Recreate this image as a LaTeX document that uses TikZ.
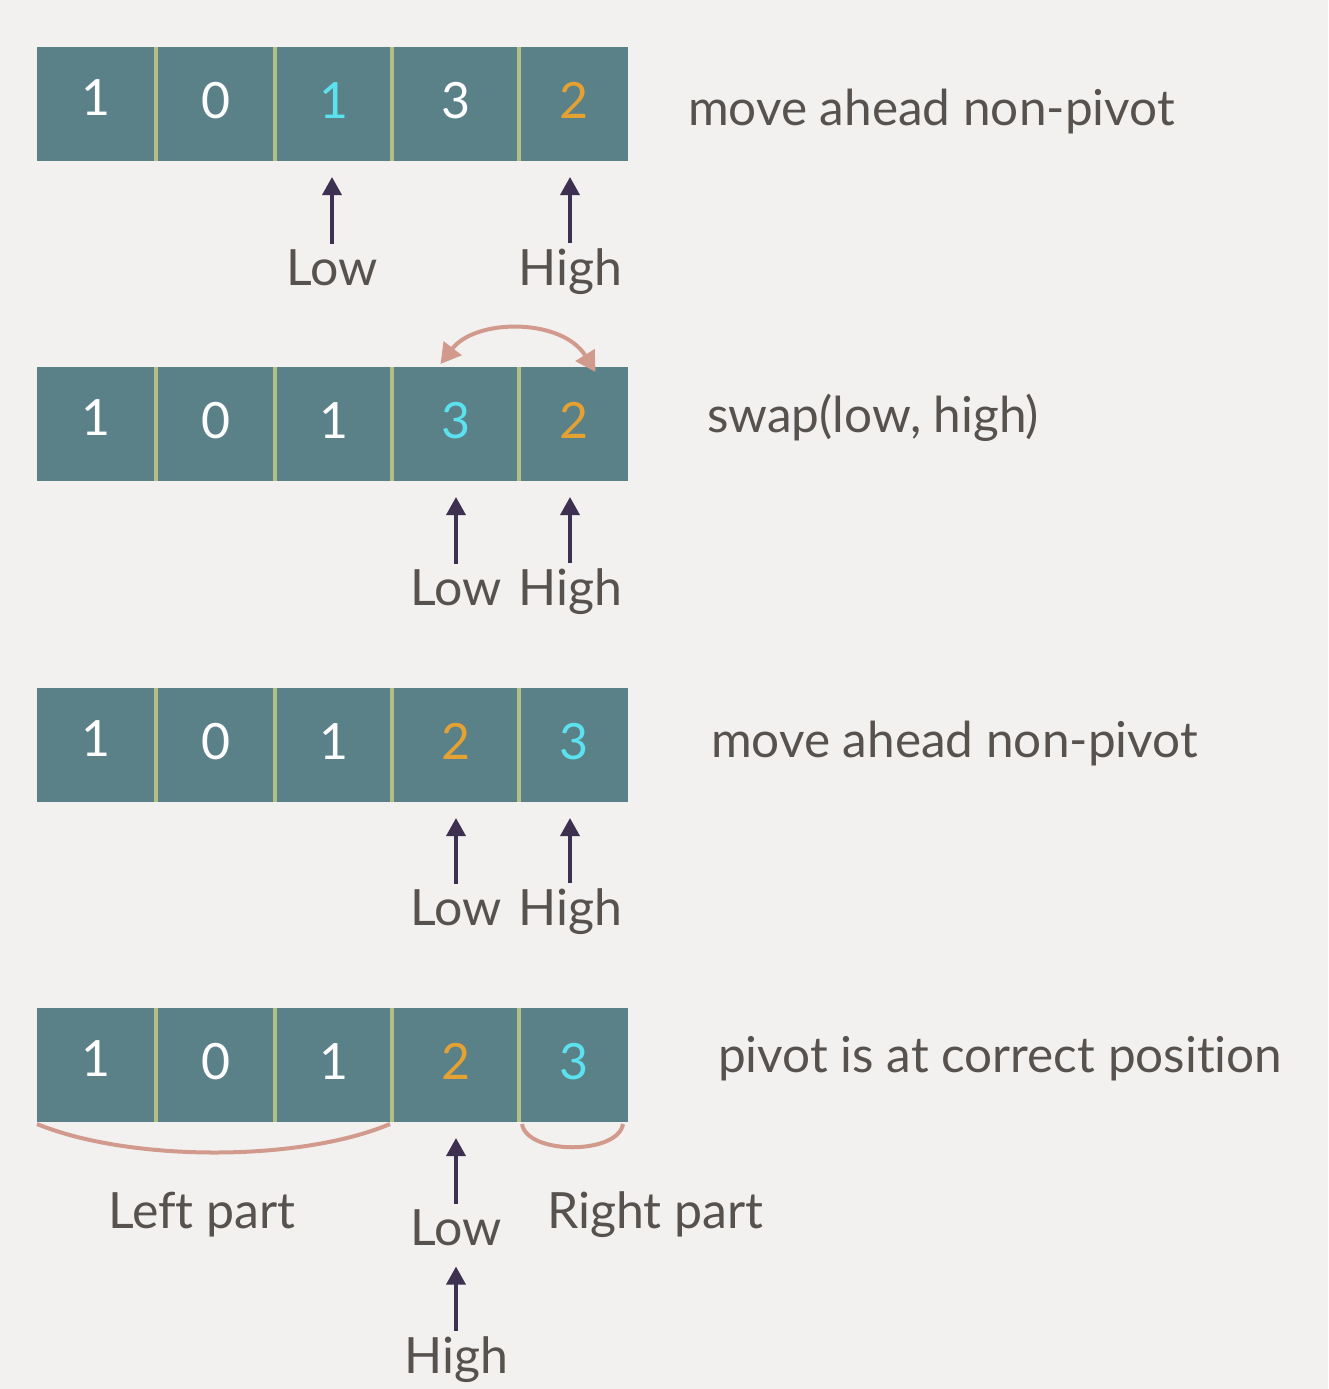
\documentclass[tikz,border=0pt]{standalone}
\usepackage{fontspec}
\setmainfont{Lato}[Ligatures={NoCommon}]
\usetikzlibrary{arrows.meta}
\definecolor{bg}{HTML}{F2F1EF}
\definecolor{cellc}{HTML}{5B8188}
\definecolor{sepc}{HTML}{B3BF85}
\definecolor{txt}{HTML}{57524E}
\definecolor{cyn}{HTML}{5CE1EE}
\definecolor{org}{HTML}{E6A133}
\definecolor{ptr}{HTML}{3D3050}
\definecolor{arcc}{HTML}{D19A8D}
\newcommand\qsrow[7]{%
  \node[cellbox, minimum width=119pt] (#1c1) at (37,#2) {};
  \node[cellbox, minimum width=119pt] (#1c2) at (156,#2) {};
  \node[cellbox, minimum width=117pt] (#1c3) at (275,#2) {};
  \node[cellbox, minimum width=127pt] (#1c4) at (392,#2) {};
  \node[cellbox, minimum width=109pt] (#1c5) at (519,#2) {};
  \foreach \k in {1,2,3,4}{\draw[sepline] (#1c\k.north east) -- (#1c\k.south east);}
  \node[dig] (#1d1) at ([xshift=-1pt,yshift=-68pt]#1c1.north) {#3};
  \node[dig] (#1d2) at ([yshift=-71pt]#1c2.north) {#4};
  \node[dig] (#1d3) at ([yshift=-71pt]#1c3.north) {#5};
  \node[dig] (#1d4) at ([yshift=-71pt]#1c4.north) {#6};
  \node[dig] (#1d5) at ([yshift=-71pt]#1c5.north) {#7};
}
\begin{document}
\begin{tikzpicture}[x=1pt,y=-1pt,
  cellbox/.style={fill=cellc, draw=none, minimum height=114pt, inner sep=0pt, outer sep=0pt, anchor=north west},
  sepline/.style={draw=sepc, line width=4pt},
  dig/.style={font=\fontsize{50}{50}\selectfont, text=white, anchor=base, inner sep=0pt},
  lbl/.style={font=\fontsize{50}{50}\selectfont, text=txt, anchor=base, inner sep=0pt},
  desc/.style={font=\fontsize{49.5}{50}\selectfont, text=txt, anchor=base west, inner sep=0pt},
  ptrarrow/.style={draw=ptr, line width=3.5pt, -{Triangle[length=18pt,width=19pt]}},
  arcline/.style={draw=arcc, line width=4pt},
  arcarrow/.style={draw=arcc, line width=4pt, {Triangle[length=20pt,width=22pt]}-{Triangle[length=20pt,width=22pt]}}]
\fill[bg] (0,0) rectangle (1328,1389);
\useasboundingbox (0,0) rectangle (1328,1389);

% row 1
\qsrow{a}{47}{1}{0}{\textcolor{cyn}{1}}{3}{\textcolor{org}{2}}
\node[desc] (adesc) at (688,125) {move ahead non-pivot};
\node[lbl] (alow) at (332,285) {Low};
\node[lbl] (ahigh) at (570,285) {High};
\draw[ptrarrow] ([yshift=5pt]alow.north) -- ([yshift=-16pt]alow.north |- ac3.south);
\draw[ptrarrow] ([yshift=5pt]ahigh.north) -- ([yshift=-16pt]ahigh.north |- ac5.south);

% row 2
\qsrow{b}{367}{1}{0}{1}{\textcolor{cyn}{3}}{\textcolor{org}{2}}
\node[desc] (bdesc) at (707,432) {swap(low, high)};
\node[lbl] (blow) at (456,605) {Low};
\node[lbl] (bhigh) at (570,605) {High};
\draw[ptrarrow] ([yshift=5pt]blow.north) -- ([yshift=-16pt]blow.north |- bc4.south);
\draw[ptrarrow] ([yshift=5pt]bhigh.north) -- ([yshift=-16pt]bhigh.north |- bc5.south);
\draw[arcarrow] ([xshift=-15pt,yshift=3pt]bc4.north) .. controls (476,318) and (562,318) .. ([xshift=22pt,yshift=-5pt]bc5.north);

% row 3
\qsrow{c}{688}{1}{0}{1}{\textcolor{org}{2}}{\textcolor{cyn}{3}}
\node[desc] (cdesc) at (711,757) {move ahead non-pivot};
\node[lbl] (clow) at (456,925) {Low};
\node[lbl] (chigh) at (570,925) {High};
\draw[ptrarrow] ([yshift=5pt]clow.north) -- ([yshift=-16pt]clow.north |- cc4.south);
\draw[ptrarrow] ([yshift=5pt]chigh.north) -- ([yshift=-16pt]chigh.north |- cc5.south);

% row 4
\qsrow{d}{1008}{1}{0}{1}{\textcolor{org}{2}}{\textcolor{cyn}{3}}
\node[desc] (ddesc) at (718,1072) {pivot is at correct position};
\node[lbl] (dlow) at (456,1245) {Low};
\node[lbl] (dhigh) at (456,1373) {High};
\draw[ptrarrow] ([yshift=5pt]dlow.north) -- ([yshift=-16pt]dlow.north |- dc4.south);
\draw[ptrarrow] ([yshift=5pt]dhigh.north) -- ([yshift=-21pt]dlow.south);
\draw[arcline] ([yshift=-2pt]dc1.south west) .. controls (130,1162) and (300,1162) .. ([xshift=-2pt,yshift=-2pt]dc3.south east);
\draw[arcline] ([xshift=3pt,yshift=-2pt]dc5.south west) .. controls (527,1155) and (618,1155) .. ([xshift=-5pt,yshift=-2pt]dc5.south east);
\node[lbl, anchor=base west] (left) at (108,1228) {Left part};
\node[lbl, anchor=base west] (right) at (547,1228) {Right part};
\end{tikzpicture}
\end{document}
